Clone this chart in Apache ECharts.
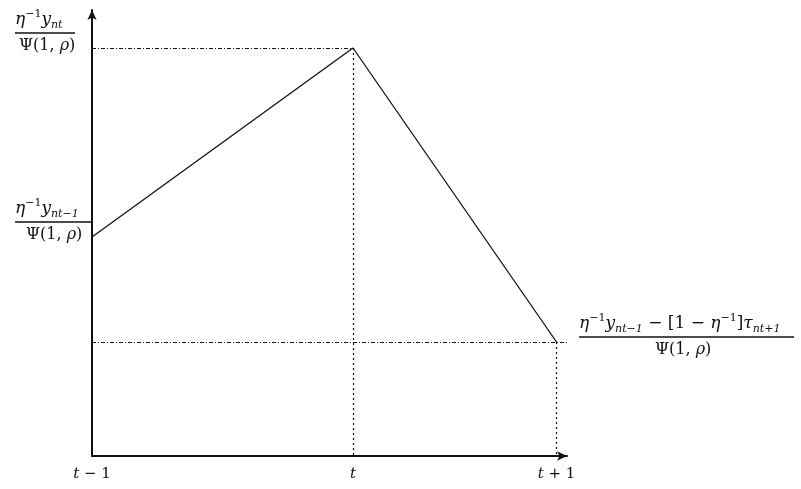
<!DOCTYPE html>
<html>
<head>
<meta charset="utf-8">
<script src="https://cdn.jsdelivr.net/npm/echarts@6/dist/echarts.min.js"></script>
<style>
  html, body { margin: 0; padding: 0; background: #fff; }
  #chart { width: 801px; height: 489px; }
</style>
</head>
<body>
<div id="chart"></div>
<script>
// periods along the x axis (t-1, t, t+1), spacing as drawn
var xPos = [0, 1, 1.78]
var xLabels = ['t-1', 't', 't+1']
// path values at each period
var yVals = [219, 408, 114]

var serif = 'DejaVu Serif'
var ink = '#111'
var rich = {
  v: { fontFamily: serif, fontStyle: 'italic', fontSize: 17, color: ink, lineHeight: 22 },
  r: { fontFamily: serif, fontSize: 17, color: ink, lineHeight: 22 },
  sup: { fontFamily: serif, fontSize: 11, color: ink, verticalAlign: 'top', lineHeight: 22 },
  sub: { fontFamily: serif, fontStyle: 'italic', fontSize: 11, color: ink, verticalAlign: 'bottom', lineHeight: 22 },
  bar60: { width: 60, height: 1.5, backgroundColor: ink, lineHeight: 4 },
  bar78: { width: 78, height: 1.5, backgroundColor: ink, lineHeight: 4 },
  bar215: { width: 215, height: 1.5, backgroundColor: ink, lineHeight: 4 },
  sp4: { width: 4, lineHeight: 22 },
  sp11: { width: 11, lineHeight: 22 },
  sp76: { width: 76, lineHeight: 22 },
  d: { fontFamily: serif, fontSize: 16, color: ink, lineHeight: 22 },
  dv: { fontFamily: serif, fontStyle: 'italic', fontSize: 16, color: ink, lineHeight: 22 },
  ti: { fontFamily: serif, fontStyle: 'italic', fontSize: 15, color: ink },
  tr: { fontFamily: serif, fontSize: 15, color: ink }
}

function den(sp) {
  return '{' + sp + '|}{d|Ψ(1, }{dv|ρ}{d|)}'
}
var yText = {
  219: '{v|η}{sup|−1}{v|y}{sub|nt−1}\n{bar78|}\n' + den('sp11'),
  408: '{v|η}{sup|−1}{v|y}{sub|nt}\n{bar60|}\n' + den('sp4')
}
var endText = '{v|η}{sup|−1}{v|y}{sub|nt−1}{r| − [1 − }{v|η}{sup|−1}{r|]}{v|τ}{sub|nt+1}\n{bar215|}\n' + den('sp76')

var xText = {
  't-1': '{ti|t}{tr| − 1}',
  't': '{ti|t}',
  't+1': '{ti|t}{tr| + 1}'
}

var dashDot = { color: ink, width: 1.2, type: [4, 2, 1, 2] }
var dotted = { color: ink, width: 1.2, type: [2, 3] }

var chart = echarts.init(document.getElementById('chart'))
chart.setOption({
  backgroundColor: '#fff',
  animation: false,
  grid: { left: 92, right: 234, top: 10, bottom: 33 },
  xAxis: {
    type: 'value',
    min: 0,
    max: 1.82,
    splitLine: { show: false },
    axisTick: { show: false },
    axisLine: { lineStyle: { color: ink, width: 2 }, symbol: ['none', 'arrow'], symbolSize: [7, 10] },
    axisLabel: {
      customValues: xPos,
      margin: 11,
      rich: rich,
      formatter: function (v) {
        var i = xPos.indexOf(v)
        return i < 0 ? '' : xText[xLabels[i]]
      }
    }
  },
  yAxis: {
    type: 'value',
    min: 0,
    max: 446,
    splitLine: { show: false },
    axisTick: { show: false },
    axisLine: { show: true, lineStyle: { color: ink, width: 2 }, symbol: ['none', 'arrow'], symbolSize: [7, 10] },
    axisLabel: {
      customValues: [yVals[0], yVals[1]],
      margin: 77,
      align: 'left',
      padding: [0, 0, 30, 0],
      rich: rich,
      formatter: function (v) { return yText[v] || '' }
    }
  },
  series: [{
    type: 'line',
    showSymbol: false,
    symbol: 'none',
    clip: false,
    lineStyle: { color: ink, width: 1.3 },
    data: xPos.map(function (x, i) { return [x, yVals[i]] }),
    markPoint: {
      silent: true,
      symbol: 'circle',
      symbolSize: 1,
      itemStyle: { color: 'rgba(0,0,0,0)' },
      data: [{
        coord: [xPos[2], yVals[2]],
        label: {
          show: true,
          position: 'right',
          distance: 22,
          offset: [0, -5],
          rich: rich,
          formatter: endText
        }
      }]
    },
    markLine: {
      silent: true,
      symbol: 'none',
      label: { show: false },
      data: [
        [{ coord: [xPos[0], yVals[1]], lineStyle: dashDot }, { coord: [xPos[1], yVals[1]] }],
        [{ coord: [xPos[1], yVals[1]], lineStyle: dotted }, { coord: [xPos[1], 0] }],
        [{ coord: [xPos[0], yVals[2]], lineStyle: dashDot }, { coord: [1.82, yVals[2]] }],
        [{ coord: [xPos[2], yVals[2]], lineStyle: dotted }, { coord: [xPos[2], 0] }]
      ]
    }
  }]
})
</script>
</body>
</html>
